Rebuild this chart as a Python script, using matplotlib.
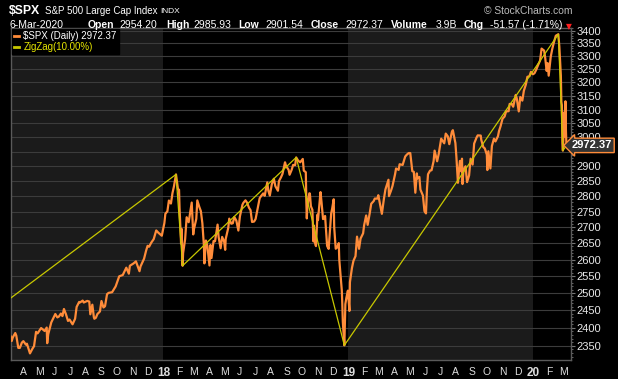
import numpy as np
import pandas as pd
import matplotlib
matplotlib.use('Agg')
import matplotlib.pyplot as plt
import matplotlib.dates as mdates
import matplotlib.transforms as mtransforms
from matplotlib.lines import Line2D
from matplotlib.ticker import FixedLocator, NullFormatter

plt.rcParams['font.family'] = ['Liberation Sans', 'DejaVu Sans']

# --- donnees : $SPX cloture (lecture approximative du graphique) ---
dates = [
    '2017-03-06', '2017-03-08', '2017-03-10', '2017-03-15', '2017-03-17', '2017-03-21', '2017-03-24',
    '2017-03-28', '2017-03-31', '2017-04-05', '2017-04-07', '2017-04-13', '2017-04-18', '2017-04-21',
    '2017-04-25', '2017-04-28', '2017-05-05', '2017-05-12', '2017-05-16', '2017-05-17', '2017-05-19',
    '2017-05-25', '2017-06-02', '2017-06-06', '2017-06-09', '2017-06-13', '2017-06-16', '2017-06-19',
    '2017-06-23', '2017-06-27', '2017-06-30', '2017-07-06', '2017-07-11', '2017-07-14', '2017-07-19',
    '2017-07-21', '2017-07-26', '2017-07-28', '2017-08-04', '2017-08-08', '2017-08-10', '2017-08-14',
    '2017-08-17', '2017-08-18', '2017-08-21', '2017-08-24', '2017-08-29', '2017-09-01', '2017-09-05',
    '2017-09-08', '2017-09-12', '2017-09-15', '2017-09-22', '2017-09-29', '2017-10-06', '2017-10-13',
    '2017-10-20', '2017-10-25', '2017-10-27', '2017-11-03', '2017-11-08', '2017-11-15', '2017-11-17',
    '2017-11-24', '2017-11-28', '2017-12-01', '2017-12-04', '2017-12-08', '2017-12-13', '2017-12-18',
    '2017-12-22', '2017-12-29',
    '2018-01-03', '2018-01-05', '2018-01-09', '2018-01-12', '2018-01-16', '2018-01-19', '2018-01-22',
    '2018-01-26', '2018-01-30', '2018-02-01', '2018-02-02', '2018-02-05', '2018-02-06', '2018-02-08',
    '2018-02-09', '2018-02-13', '2018-02-16', '2018-02-20', '2018-02-23', '2018-02-26', '2018-03-01',
    '2018-03-02', '2018-03-07', '2018-03-09', '2018-03-13', '2018-03-16', '2018-03-19', '2018-03-22',
    '2018-03-23', '2018-03-26', '2018-03-29', '2018-04-02', '2018-04-04', '2018-04-06', '2018-04-10',
    '2018-04-13', '2018-04-18', '2018-04-20', '2018-04-24', '2018-04-27', '2018-05-01', '2018-05-03',
    '2018-05-04', '2018-05-09', '2018-05-11', '2018-05-15', '2018-05-18', '2018-05-21', '2018-05-25',
    '2018-05-29', '2018-06-01', '2018-06-06', '2018-06-08', '2018-06-12', '2018-06-15', '2018-06-19',
    '2018-06-22', '2018-06-25', '2018-06-29', '2018-07-02', '2018-07-06', '2018-07-10', '2018-07-13',
    '2018-07-17', '2018-07-20', '2018-07-25', '2018-07-27', '2018-07-30', '2018-08-03', '2018-08-07',
    '2018-08-10', '2018-08-15', '2018-08-17', '2018-08-21', '2018-08-24', '2018-08-29', '2018-08-31',
    '2018-09-05', '2018-09-07', '2018-09-11', '2018-09-14', '2018-09-18', '2018-09-20', '2018-09-24',
    '2018-09-28', '2018-10-03', '2018-10-05', '2018-10-09', '2018-10-10', '2018-10-11', '2018-10-12',
    '2018-10-16', '2018-10-17', '2018-10-19', '2018-10-22', '2018-10-24', '2018-10-25', '2018-10-26',
    '2018-10-29', '2018-11-01', '2018-11-02', '2018-11-07', '2018-11-09', '2018-11-12', '2018-11-15',
    '2018-11-16', '2018-11-20', '2018-11-23', '2018-11-28', '2018-11-30', '2018-12-03', '2018-12-04',
    '2018-12-07', '2018-12-10', '2018-12-13', '2018-12-14', '2018-12-17', '2018-12-19', '2018-12-20',
    '2018-12-21', '2018-12-24', '2018-12-26', '2018-12-28', '2018-12-31',
    '2019-01-03', '2019-01-04', '2019-01-08', '2019-01-11', '2019-01-15', '2019-01-18', '2019-01-22',
    '2019-01-25', '2019-01-30', '2019-02-01', '2019-02-05', '2019-02-08', '2019-02-12', '2019-02-15',
    '2019-02-20', '2019-02-22', '2019-02-27', '2019-03-01', '2019-03-08', '2019-03-12', '2019-03-15',
    '2019-03-21', '2019-03-22', '2019-03-26', '2019-03-29', '2019-04-03', '2019-04-05', '2019-04-10',
    '2019-04-12', '2019-04-18', '2019-04-23', '2019-04-26', '2019-04-30', '2019-05-03', '2019-05-07',
    '2019-05-10', '2019-05-13', '2019-05-16', '2019-05-17', '2019-05-21', '2019-05-23', '2019-05-28',
    '2019-05-31', '2019-06-03', '2019-06-05', '2019-06-07', '2019-06-11', '2019-06-14', '2019-06-18',
    '2019-06-20', '2019-06-25', '2019-06-28', '2019-07-03', '2019-07-09', '2019-07-12', '2019-07-16',
    '2019-07-19', '2019-07-24', '2019-07-26', '2019-07-31', '2019-08-02', '2019-08-05', '2019-08-07',
    '2019-08-09', '2019-08-12', '2019-08-13', '2019-08-14', '2019-08-16', '2019-08-20', '2019-08-23',
    '2019-08-27', '2019-08-30', '2019-09-03', '2019-09-06', '2019-09-11', '2019-09-13', '2019-09-19',
    '2019-09-20', '2019-09-24', '2019-09-27', '2019-10-01', '2019-10-02', '2019-10-04', '2019-10-08',
    '2019-10-11', '2019-10-15', '2019-10-18', '2019-10-23', '2019-10-25', '2019-10-28', '2019-11-01',
    '2019-11-05', '2019-11-08', '2019-11-13', '2019-11-15', '2019-11-19', '2019-11-22', '2019-11-27',
    '2019-11-29', '2019-12-03', '2019-12-06', '2019-12-10', '2019-12-13', '2019-12-17', '2019-12-20',
    '2019-12-24', '2019-12-27', '2019-12-31',
    '2020-01-03', '2020-01-06', '2020-01-10', '2020-01-14', '2020-01-17', '2020-01-22', '2020-01-24',
    '2020-01-27', '2020-01-29', '2020-01-31', '2020-02-04', '2020-02-07', '2020-02-10', '2020-02-14',
    '2020-02-19', '2020-02-21', '2020-02-24', '2020-02-25', '2020-02-26', '2020-02-27', '2020-02-28',
    '2020-03-02', '2020-03-03', '2020-03-04', '2020-03-05', '2020-03-06',
]
closes = [
    2375.31, 2362.98, 2372.60, 2385.26, 2378.25, 2344.02, 2343.98,
    2358.57, 2362.72, 2352.95, 2355.54, 2328.95, 2342.19, 2348.69,
    2388.61, 2384.20, 2399.29, 2390.90, 2400.67, 2357.03, 2381.73,
    2415.07, 2439.07, 2429.33, 2431.77, 2440.35, 2433.15, 2453.46,
    2438.30, 2419.38, 2423.41, 2409.75, 2425.53, 2459.27, 2473.83,
    2472.54, 2477.83, 2472.10, 2476.83, 2474.92, 2438.21, 2465.84,
    2430.01, 2425.55, 2428.37, 2438.97, 2446.30, 2476.55, 2457.85,
    2461.43, 2496.48, 2500.23, 2502.22, 2519.36, 2549.33, 2553.17,
    2575.21, 2557.15, 2581.07, 2587.84, 2594.38, 2564.62, 2578.85,
    2602.42, 2627.04, 2642.22, 2639.44, 2651.50, 2662.85, 2690.16,
    2683.34, 2673.61,
    2713.06, 2743.15, 2751.29, 2786.24, 2776.42, 2810.30, 2832.97,
    2872.87, 2822.43, 2821.98, 2762.13, 2648.94, 2695.14, 2581.00,
    2619.55, 2662.94, 2732.22, 2716.26, 2747.30, 2779.60, 2677.67,
    2691.25, 2726.80, 2786.57, 2765.31, 2752.01, 2712.92, 2643.69,
    2588.26, 2658.55, 2640.87, 2581.88, 2644.69, 2604.47, 2656.87,
    2656.30, 2708.64, 2670.14, 2634.56, 2669.91, 2654.80, 2629.73,
    2663.42, 2697.79, 2727.72, 2711.45, 2712.97, 2733.01, 2721.33,
    2689.86, 2734.62, 2772.35, 2779.03, 2786.85, 2779.66, 2762.59,
    2754.88, 2717.07, 2718.37, 2726.71, 2759.82, 2793.84, 2801.31,
    2809.55, 2801.83, 2846.07, 2818.82, 2802.60, 2840.35, 2858.45,
    2833.28, 2818.37, 2850.13, 2862.96, 2874.69, 2914.04, 2901.52,
    2888.60, 2871.68, 2887.89, 2904.98, 2904.31, 2930.75, 2919.37,
    2913.98, 2925.51, 2885.57, 2880.34, 2785.68, 2728.37, 2767.13,
    2809.92, 2809.21, 2767.78, 2755.88, 2656.10, 2705.57, 2658.69,
    2641.25, 2740.37, 2723.06, 2813.89, 2781.01, 2726.22, 2730.20,
    2736.27, 2641.89, 2632.56, 2743.79, 2760.17, 2790.37, 2700.06,
    2633.08, 2637.72, 2650.54, 2599.95, 2545.94, 2506.96, 2467.42,
    2416.62, 2351.10, 2467.70, 2485.74, 2506.85,
    2447.89, 2531.94, 2574.41, 2596.26, 2610.30, 2670.71, 2632.90,
    2664.76, 2681.05, 2706.53, 2737.70, 2707.88, 2744.73, 2775.60,
    2784.70, 2792.67, 2792.38, 2803.69, 2743.07, 2791.52, 2822.48,
    2854.88, 2800.71, 2818.46, 2834.40, 2873.40, 2892.74, 2888.21,
    2907.41, 2905.03, 2933.68, 2939.88, 2945.83, 2945.64, 2884.05,
    2881.40, 2811.87, 2876.32, 2859.53, 2864.36, 2822.24, 2802.39,
    2752.06, 2744.45, 2826.15, 2873.34, 2885.72, 2886.98, 2917.75,
    2954.18, 2917.38, 2941.76, 2995.82, 2979.63, 3013.77, 3004.04,
    2976.61, 3019.56, 3025.86, 2980.38, 2932.05, 2844.74, 2883.98,
    2918.65, 2882.70, 2926.32, 2840.60, 2888.68, 2900.51, 2847.11,
    2869.16, 2926.46, 2906.27, 2978.71, 3000.93, 3007.39, 3006.79,
    2992.07, 2966.60, 2961.79, 2940.25, 2887.61, 2952.01, 2893.06,
    2970.27, 2995.68, 2986.20, 3004.52, 3022.55, 3039.42, 3066.91,
    3074.62, 3093.08, 3094.04, 3120.46, 3120.18, 3110.29, 3153.63,
    3140.98, 3093.20, 3145.91, 3132.52, 3168.80, 3192.52, 3221.22,
    3223.38, 3240.02, 3230.78,
    3234.85, 3246.28, 3265.35, 3283.15, 3329.62, 3321.75, 3295.47,
    3243.63, 3273.40, 3225.52, 3297.59, 3327.71, 3352.09, 3380.16,
    3386.15, 3337.75, 3225.89, 3128.21, 3116.39, 2978.76, 2954.22,
    3090.23, 3003.37, 3130.12, 3023.94, 2972.37,
]

# ZigZag(10%) : pivots
zz_dates = ['2017-03-06', '2018-01-26', '2018-02-08', '2018-09-20',
            '2018-12-24', '2020-02-19', '2020-02-28', '2020-03-06']
zz_values = [2485, 2872.87, 2581.00, 2930.75, 2351.10, 3386.15, 2954.22, 2972.37]

yticks = list(range(2350, 3401, 50))
month_letters = ['J', 'F', 'M', 'A', 'M', 'J', 'J', 'A', 'S', 'O', 'N', 'D']

x = pd.to_datetime(dates)
zx = pd.to_datetime(zz_dates)

orange = '#ff8c3a'
jaune = '#c8c800'
grille = '#3c3c3c'

W, H = 618, 379
fig = plt.figure(figsize=(W / 100, H / 100), dpi=100, facecolor='black')
ax = fig.add_axes([10.7 / W, 1 - 360 / H, (571 - 10.7) / W, (360 - 28) / H])
ax.set_facecolor('black')

# bandes annuelles (2017 et 2019 en gris)
ax.axvspan(pd.Timestamp('2017-01-01'), pd.Timestamp('2018-01-01'), color='#1b1b1b', zorder=0, lw=0)
ax.axvspan(pd.Timestamp('2019-01-01'), pd.Timestamp('2020-01-01'), color='#1b1b1b', zorder=0, lw=0)

ax.plot(x, closes, color=orange, lw=1.6, zorder=3, solid_joinstyle='round')
ax.plot(zx, zz_values, color=jaune, lw=0.9, zorder=4)

ax.set_yscale('log')
ax.set_ylim(2311, 3411)
ax.set_xlim(pd.Timestamp('2017-03-06'), pd.Timestamp('2020-03-15'))

# axe y a droite (le 2950 est cache sous l'etiquette du dernier cours)
ax.yaxis.tick_right()
ax.yaxis.set_major_locator(FixedLocator(yticks))
ax.yaxis.set_minor_locator(FixedLocator(list(range(2320, 3411, 10))))
ax.yaxis.set_minor_formatter(NullFormatter())
ax.set_yticklabels(['' if v == 2950 else str(v) for v in yticks])
ax.tick_params(axis='y', which='major', colors='#777', labelcolor='#e8e8e8',
               labelsize=8, length=3, pad=1)
ax.tick_params(axis='y', which='minor', colors='#777', length=1.5)
ax.grid(True, axis='y', which='major', color=grille, lw=0.8)

# axe x : mois
mois = pd.date_range('2017-04-01', '2020-03-01', freq='MS')
labels = [d.strftime('%y') if d.month == 1 else month_letters[d.month - 1] for d in mois]
ax.set_xticks(mois)
ax.set_xticklabels(labels)
ax.tick_params(axis='x', which='major', length=0, colors='#ddd', labelsize=7.5, pad=5)
for t, d in zip(ax.get_xticklabels(), mois):
    if d.month == 1:
        t.set_fontweight('bold')
        t.set_fontsize(8.5)
trimestres = pd.date_range('2017-04-01', '2020-01-01', freq='QS')
ax.xaxis.set_minor_locator(FixedLocator(mdates.date2num(trimestres)))
ax.tick_params(axis='x', which='minor', length=0)
ax.grid(True, axis='x', which='minor', color=grille, lw=0.8)

for s in ax.spines.values():
    s.set_color('#5a5a5a')
    s.set_linewidth(1)

# legende
h = [Line2D([], [], color=orange, lw=2), Line2D([], [], color=jaune, lw=2)]
leg = ax.legend(h, ['$SPX (Daily) 2972.37', 'ZigZag(10.00%)'], loc='upper left',
                fontsize=7.0, handlelength=0.6, handletextpad=0.4, borderpad=0.2,
                labelspacing=0.15, borderaxespad=0.1, frameon=True, fancybox=False,
                facecolor='black', edgecolor='black', framealpha=1)
leg.get_texts()[0].set_color('white')
leg.get_texts()[1].set_color('#e6e600')

# etiquette du dernier cours
trans = mtransforms.blended_transform_factory(ax.transAxes, ax.transData)
ax.text((612 - 10.7) / (571 - 10.7), closes[-1], f'{closes[-1]:.2f}', transform=trans,
        ha='right', va='center', color='white', fontsize=8, fontweight='bold',
        zorder=10, clip_on=False,
        bbox=dict(boxstyle='larrow,pad=0.2', fc='#333333', ec=orange, lw=1))

# en-tete
def ft(px, py, s, **kw):
    kw.setdefault('color', 'white')
    fig.text(px / W, 1 - py / H, s, va='center', ha='left', **kw)

ft(9, 11, '$SPX', fontsize=8.8, fontweight='bold')
ft(45, 11, 'S&P 500 Large Cap Index', fontsize=7.0)
ft(160, 11.5, 'INDX', fontsize=6.0)
fig.text(572 / W, 1 - 11 / H, '© StockCharts.com', va='center', ha='right',
         color='#bbbbbb', fontsize=7.4)

ligne2 = [('6-Mar-2020', 9, False), ('Open', 88, True), ('2954.20', 119, False),
          ('High', 166, True), ('2985.93', 193, False), ('Low', 238, True),
          ('2901.54', 265, False), ('Close', 311, True), ('2972.37', 345, False),
          ('Volume', 391, True), ('3.9B', 436, False), ('Chg', 464, True),
          ('-51.57 (-1.71%)', 490, False)]
for s, px, b in ligne2:
    ft(px, 25.5, s, fontsize=7.5, fontweight='bold' if b else 'normal')
ft(566, 26.5, '▼', fontsize=5.5, color='#ff2020', family='DejaVu Sans')

fig.savefig('out.png', dpi=100, facecolor='black')
